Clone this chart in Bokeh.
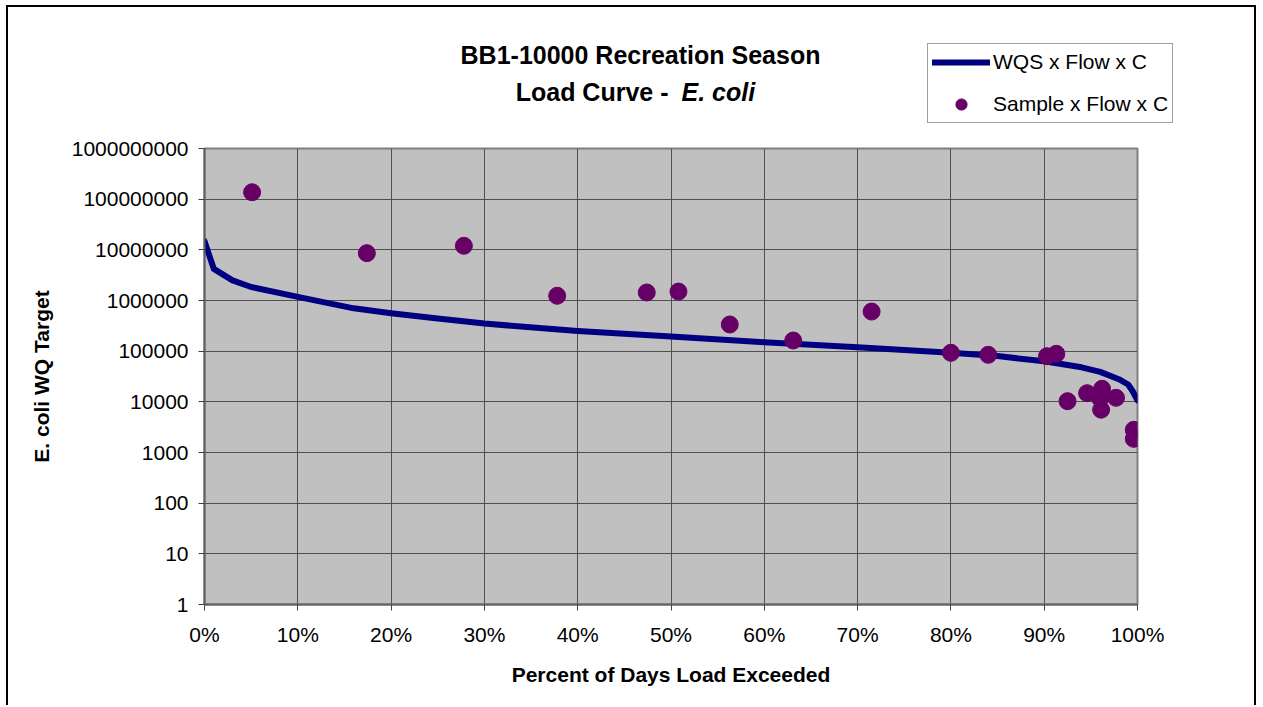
from bokeh.plotting import figure
from bokeh.layouts import column
from bokeh.models import (Range1d, FixedTicker, CustomJSTickFormatter, Legend, LegendItem,
                          Label, ColumnDataSource)
from bokeh.embed import file_html
from bokeh.resources import INLINE

# ---- data ----
curve_pct = [0, 1, 3, 5, 10, 16, 20, 25, 30, 40, 50, 60, 70, 80, 85, 90, 94, 96, 98, 99, 99.5, 100]
curve_load = [1.48e7, 4.2e6, 2.5e6, 1.85e6, 1.18e6, 7.0e5, 5.6e5, 4.4e5, 3.5e5, 2.5e5, 1.95e5,
              1.5e5, 1.2e5, 9.3e4, 8.0e4, 6.3e4, 4.8e4, 3.9e4, 2.8e4, 2.2e4, 1.6e4, 1.07e4]

sample_pct = [5.1, 17.4, 27.8, 37.8, 47.4, 50.8, 56.3, 63.1, 71.5, 80.0, 84.0, 90.3, 91.3,
              92.5, 94.6, 96.2, 96.0, 97.7, 96.1, 99.6, 99.6]
sample_load = [1.37e8, 8.6e6, 1.2e7, 1.24e6, 1.44e6, 1.5e6, 3.36e5, 1.62e5, 6.05e5, 9.27e4,
               8.47e4, 7.95e4, 8.87e4, 1.03e4, 1.48e4, 1.81e4, 1.16e4, 1.2e4, 7.0e3, 2.8e3, 1.86e3]

x_ticks = [0, 10, 20, 30, 40, 50, 60, 70, 80, 90, 100]
y_ticks = [1, 10, 100, 1000, 10000, 100000, 1000000, 10000000, 100000000, 1000000000]

title_line1 = "BB1-10000 Recreation Season"
title_line2a = "Load Curve -"
title_line2b = "E. coli"
x_label = "Percent of Days Load Exceeded"
y_label = "E. coli WQ Target"
series_names = ["WQS x Flow x C", "Sample x Flow x C"]

FONT = "Liberation Sans"
LINE_STYLE = dict(line_color="#000080", line_width=6, line_join="round", line_cap="round")
PT_STYLE = dict(size=17, marker="circle", fill_color="#660066", line_color="#660066")

# ================= header figure: title + legend =================
top = figure(width=1246, height=127, output_backend="svg", toolbar_location=None,
             x_range=Range1d(0, 1), y_range=Range1d(0, 1),
             x_axis_location=None, y_axis_location=None,
             min_border_left=0, min_border_right=0, min_border_top=0, min_border_bottom=0)
top.frame_align = False
top.title.visible = False
top.xgrid.visible = False
top.ygrid.visible = False
top.outline_line_color = None
top.background_fill_color = "white"
top.border_fill_color = "white"

# legend proxies: same styles, positioned outside the header's visible range
leg_line = top.line(x=[-5, -4], y=[-5, -4], **LINE_STYLE)
leg_pts = top.scatter(x=[-5], y=[-5], **PT_STYLE)

legend = Legend(items=[LegendItem(label=series_names[0], renderers=[leg_line]),
                       LegendItem(label=series_names[1], renderers=[leg_pts])],
                location=(919, 11))
legend.label_text_font = FONT
legend.label_text_font_size = "21px"
legend.label_text_color = "black"
legend.glyph_width = 58
legend.glyph_height = 28
legend.label_height = 28
legend.label_standoff = 3
legend.spacing = 14
legend.padding = 4
legend.margin = 0
legend.border_line_color = "#404040"
legend.border_line_width = 1
legend.background_fill_color = "white"
legend.background_fill_alpha = 1
top.add_layout(legend, "center")

top.add_layout(Label(x=632, y=80, x_units="screen", y_units="screen", text=title_line1,
                     text_font=FONT, text_font_size="25px", text_font_style="bold",
                     text_align="center", text_baseline="alphabetic", text_color="black"))
top.add_layout(Label(x=660, y=43, x_units="screen", y_units="screen", text=title_line2a,
                     text_font=FONT, text_font_size="25px", text_font_style="bold",
                     text_align="right", text_baseline="alphabetic", text_color="black"))
top.add_layout(Label(x=673, y=43, x_units="screen", y_units="screen", text=title_line2b,
                     text_font=FONT, text_font_size="25px", text_font_style="bold italic",
                     text_align="left", text_baseline="alphabetic", text_color="black"))

# ================= main chart =================
p = figure(width=1246, height=571, y_axis_type="log", output_backend="svg",
           toolbar_location=None, x_range=Range1d(0, 100), y_range=Range1d(1, 1e9),
           min_border_left=196, min_border_right=117, min_border_top=14, min_border_bottom=101)
p.frame_align = False
p.title.visible = False
p.background_fill_color = "#C0C0C0"
p.border_fill_color = "white"
p.outline_line_color = "#808080"
p.outline_line_width = 2

p.xaxis.ticker = FixedTicker(ticks=x_ticks)
p.yaxis.ticker = FixedTicker(ticks=y_ticks)
p.xaxis.formatter = CustomJSTickFormatter(code="return tick.toFixed(0) + '%';")
p.yaxis.formatter = CustomJSTickFormatter(code="return tick.toFixed(0);")
for ax in (p.xaxis[0], p.yaxis[0]):
    ax.axis_line_color = "#606060"
    ax.axis_line_width = 2
    ax.major_tick_line_color = "#404040"
    ax.major_tick_out = 6
    ax.major_tick_in = 0
    ax.minor_tick_line_color = None
    ax.major_label_text_font = FONT
    ax.major_label_text_font_size = "21px"
    ax.major_label_text_color = "black"
    ax.axis_label_text_font = FONT
    ax.axis_label_text_font_size = "21px"
    ax.axis_label_text_font_style = "bold"
    ax.axis_label_text_color = "black"
p.xaxis.axis_label = x_label
p.yaxis.axis_label = y_label
p.xaxis.major_label_standoff = 12
p.yaxis.major_label_standoff = 10
p.xaxis.axis_label_standoff = 14
p.yaxis.axis_label_standoff = 16

p.xgrid.ticker = FixedTicker(ticks=x_ticks)
p.ygrid.ticker = FixedTicker(ticks=y_ticks)
for g in (p.xgrid[0], p.ygrid[0]):
    g.grid_line_color = "#505050"
    g.grid_line_width = 1

line_src = ColumnDataSource(dict(x=curve_pct, y=curve_load))
pt_src = ColumnDataSource(dict(x=sample_pct, y=sample_load))
p.line("x", "y", source=line_src, **LINE_STYLE)
p.scatter("x", "y", source=pt_src, **PT_STYLE)

lay = column(top, p, spacing=0)
lay.styles = {"margin-left": "6px", "margin-top": "5px",
              "border-top": "2px solid black", "border-left": "2px solid black",
              "border-right": "2px solid black"}

open("out.html", "w").write(file_html(lay, INLINE))
